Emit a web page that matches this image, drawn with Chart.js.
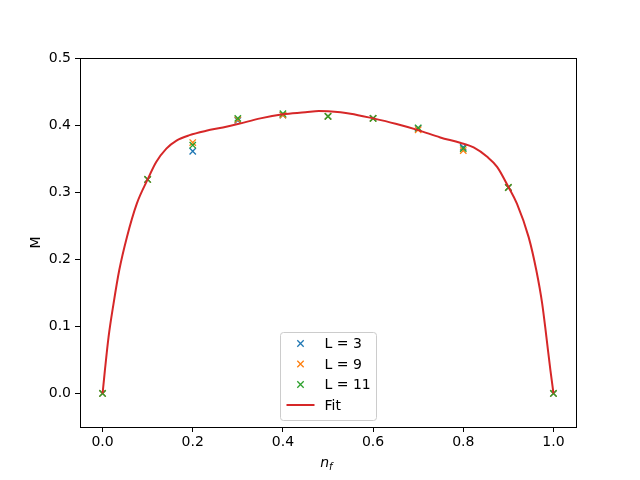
<!DOCTYPE html>
<html>
<head>
<meta charset="utf-8">
<script src="https://cdn.jsdelivr.net/npm/chart.js@4.4.1/dist/chart.umd.min.js"></script>
<style>
  html, body { margin: 0; padding: 0; background: #fff; }
  #wrap { width: 640px; height: 480px; }
</style>
</head>
<body>
<div id="wrap"><canvas id="chart" width="640" height="480"></canvas></div>
<script>
// measured points
const nf = [0, 0.1, 0.2, 0.3, 0.4, 0.5, 0.6, 0.7, 0.8, 0.9, 1.0]
const L3 = [0, 0.319, 0.361, 0.407, 0.415, 0.413, 0.410, 0.395, 0.367, 0.307, 0]
const L9 = [0, 0.319, 0.374, 0.408, 0.415, 0.413, 0.410, 0.393, 0.362, 0.307, 0]
const L11 = [0, 0.319, 0.370, 0.410, 0.417, 0.413, 0.410, 0.396, 0.365, 0.307, 0]

// fit curve
const fitX = [0, 0.0015, 0.0052, 0.0133, 0.0244, 0.037, 0.054, 0.076, 0.1, 0.119, 0.1415, 0.164, 0.193, 0.23, 0.267, 0.3, 0.35, 0.4, 0.45, 0.48, 0.5, 0.55, 0.6, 0.65, 0.7, 0.749, 0.793, 0.823, 0.853, 0.875, 0.9, 0.919, 0.945, 0.962, 0.975, 0.9844, 0.9933, 0.998, 1.0]
const fitY = [0, 0.0095, 0.0343, 0.084, 0.134, 0.1836, 0.233, 0.283, 0.319, 0.345, 0.365, 0.377, 0.385, 0.3915, 0.3965, 0.4015, 0.410, 0.416, 0.419, 0.421, 0.4205, 0.417, 0.410, 0.402, 0.3925, 0.3816, 0.3736, 0.3667, 0.3527, 0.3378, 0.308, 0.283, 0.233, 0.1836, 0.134, 0.084, 0.0343, 0.0105, 0]

const xTicks = [0, 0.2, 0.4, 0.6, 0.8, 1.0]
const yTicks = [0, 0.1, 0.2, 0.3, 0.4, 0.5]

const seriesNames = ['L = 3', 'L = 9', 'L = 11', 'Fit']
const colors = ['#1f77b4', '#ff7f0e', '#2ca02c', '#d62728']

const pts = (xs, ys) => xs.map((x, i) => ({ x: x, y: ys[i] }))

const FONT = '"DejaVu Sans", sans-serif'

function markerSet(idx, ys, order) {
    return {
        label: seriesNames[idx],
        data: pts(nf, ys),
        showLine: false,
        pointStyle: 'crossRot',
        pointRadius: 4.5,
        pointHoverRadius: 4.5,
        borderColor: colors[idx],
        backgroundColor: colors[idx],
        pointBorderWidth: 1.3,
        order: order
    }
}

const frame = {
    id: 'frame',
    beforeDraw(chart) {
        const c = chart.ctx
        c.save()
        c.fillStyle = '#fff'
        c.fillRect(0, 0, chart.width, chart.height)
        c.restore()
    },
    afterDraw(chart) {
        const c = chart.ctx
        const a = chart.chartArea
        c.save()
        // box round the plot
        c.strokeStyle = '#000'
        c.lineWidth = 1
        c.strokeRect(Math.round(a.left) + 0.5, Math.round(a.top) + 0.5, Math.round(a.right - a.left), Math.round(a.bottom - a.top))

        // axis titles
        c.fillStyle = '#000'
        c.font = 'italic 14px ' + FONT
        c.textBaseline = 'alphabetic'
        const cx = (a.left + a.right) / 2
        c.textAlign = 'right'
        c.fillText('n', cx + 1, 467)
        c.font = 'italic 10px ' + FONT
        c.textAlign = 'left'
        c.fillText('f', cx + 1, 470)

        c.font = '14px ' + FONT
        c.translate(40, (a.top + a.bottom) / 2)
        c.rotate(-Math.PI / 2)
        c.textAlign = 'center'
        c.fillText('M', 0, 0)
        c.restore()

        // legend
        c.save()
        const w = 96, h = 88
        const lx = Math.round(cx - w / 2) + 0.5
        const ly = Math.round(a.bottom - 7 - h) + 0.5
        c.fillStyle = 'rgba(255,255,255,0.8)'
        c.strokeStyle = '#cccccc'
        c.lineWidth = 1
        c.beginPath()
        c.roundRect(lx, ly, w, h, 3)
        c.fill()
        c.stroke()
        c.font = '14px ' + FONT
        c.textBaseline = 'middle'
        c.textAlign = 'left'
        seriesNames.forEach((name, i) => {
            const y = ly + 11 + i * 20.5
            const mx = lx + 20
            c.strokeStyle = colors[i]
            if (i < 3) {
                c.lineWidth = 1.3
                c.beginPath()
                c.moveTo(mx - 3.2, y - 3.2); c.lineTo(mx + 3.2, y + 3.2)
                c.moveTo(mx - 3.2, y + 3.2); c.lineTo(mx + 3.2, y - 3.2)
                c.stroke()
            } else {
                c.lineWidth = 2
                c.beginPath()
                c.moveTo(mx - 14, y); c.lineTo(mx + 14, y)
                c.stroke()
            }
            c.fillStyle = '#000'
            c.fillText(name, lx + 44, y + 1)
        })
        c.restore()
    }
}

const ctx = document.querySelector('#chart').getContext('2d')

const tickFont = { family: FONT, size: 14 }

const chart = new Chart(ctx, {
    type: 'scatter',
    data: {
        datasets: [
            markerSet(0, L3, 3),
            markerSet(1, L9, 2),
            markerSet(2, L11, 1),
            {
                label: seriesNames[3],
                data: pts(fitX, fitY),
                showLine: true,
                borderColor: colors[3],
                backgroundColor: colors[3],
                borderWidth: 2,
                pointRadius: 0,
                pointHoverRadius: 0,
                cubicInterpolationMode: 'monotone',
                order: 0
            }
        ]
    },
    options: {
        responsive: false,
        animation: false,
        layout: { padding: { top: 58, right: 64, left: 0, bottom: 0 } },
        plugins: {
            legend: { display: false },
            tooltip: { enabled: false }
        },
        scales: {
            x: {
                type: 'linear',
                min: -0.05,
                max: 1.05,
                afterBuildTicks: s => { s.ticks = xTicks.map(v => ({ value: v })) },
                afterFit: s => { s.height = 53 },
                ticks: {
                    color: '#000',
                    font: tickFont,
                    padding: 2,
                    maxRotation: 0,
                    callback: v => v.toFixed(1)
                },
                grid: { display: true, drawOnChartArea: false, drawTicks: true, tickLength: 5, color: '#000' },
                border: { display: true, color: '#000' }
            },
            y: {
                type: 'linear',
                min: -0.05,
                max: 0.5,
                afterBuildTicks: s => { s.ticks = yTicks.map(v => ({ value: v })) },
                afterFit: s => { s.width = 80 },
                ticks: {
                    color: '#000',
                    font: tickFont,
                    padding: 4,
                    callback: v => v.toFixed(1)
                },
                grid: { display: true, drawOnChartArea: false, drawTicks: true, tickLength: 5, color: '#000' },
                border: { display: true, color: '#000' }
            }
        }
    },
    plugins: [frame]
})
</script>
</body>
</html>
